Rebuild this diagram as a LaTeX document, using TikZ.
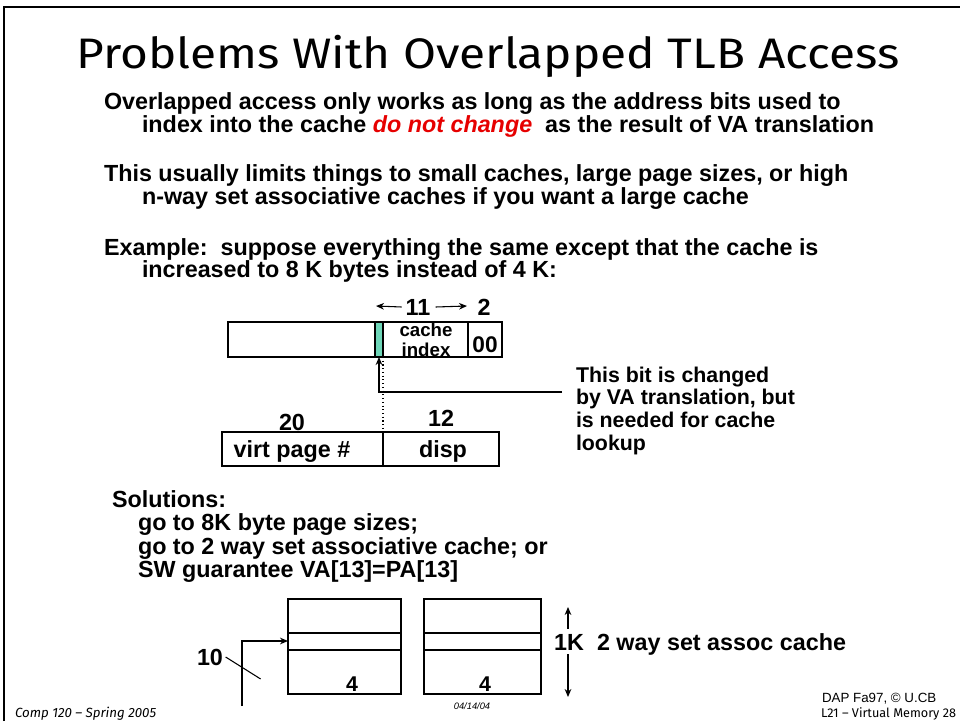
\documentclass[tikz,border=0pt]{standalone}
\usepackage{fontspec}
\setmainfont{Liberation Sans}
\newfontfamily\comicfont{Fira Sans}
\usetikzlibrary{arrows.meta,calc}
\definecolor{slidered}{RGB}{230,0,0}
\definecolor{stripgreen}{RGB}{110,214,184}
\begin{document}
\begin{tikzpicture}[x=0.75pt,y=-0.75pt,
  every node/.style={inner sep=0pt,outer sep=0pt},
  body/.style={font=\fontsize{17.5}{17.5}\selectfont\bfseries, anchor=base west},
  note/.style={font=\fontsize{16}{16}\selectfont\bfseries, anchor=base west},
  cell/.style={draw, line width=1pt, anchor=north west},
  lbl/.style={font=\fontsize{17.5}{17.5}\selectfont\bfseries},
  tip/.style={-{Stealth[length=6pt,width=5pt]}},
  ln/.style={line width=1pt},
]
\useasboundingbox (0,0) rectangle (960,721);
\draw[line width=1.5pt] (4,721) -- (4,7) -- (960,7);

\node[font=\comicfont\fontsize{32}{32}\selectfont, anchor=base] (title) at (488,68) {\scalebox{1.12}[1]{Problems With Overlapped TLB Access}};

\node[body] (l1) at (104,109) {Overlapped access only works as long as the address bits used to};
\node[body] (l2) at (142,132) {index into the cache \textcolor{slidered}{\itshape do not change}\ \ as the result of VA translation};
\node[body] (l3) at (104,181) {This usually limits things to small caches, large page sizes, or high};
\node[body] (l4) at (142,204) {n-way set associative caches if you want a large cache};
\node[body] (l5) at (104,255) {Example:\ \ suppose everything the same except that the cache is};
\node[body] (l6) at (142,277) {increased to 8 K bytes instead of 4 K:};

% address with cache index
\node[cell, minimum width=147*0.75pt, minimum height=35*0.75pt] (tbl) at (228,322) {};
\node[cell, fill=stripgreen, minimum width=8*0.75pt, minimum height=35*0.75pt] (strip) at (375,322) {};
\node[cell, minimum width=85*0.75pt, minimum height=35*0.75pt] (idx) at (383,322) {};
\node[cell, minimum width=34*0.75pt, minimum height=35*0.75pt] (zz) at (468,322) {};
\node[font=\fontsize{14}{14}\selectfont\bfseries] (cachet) at (426,330) {cache};
\node[font=\fontsize{14}{14}\selectfont\bfseries] (indext) at (426,350) {index};
\node[font=\fontsize{17}{17}\selectfont\bfseries] (zzt) at (485,345) {00};

\node[lbl] (eleven) at (418,307) {11};
\node[lbl] (two) at (484,307) {2};
\coordinate (lt) at (376,306);
\coordinate (rt) at (467,306);
\draw[tip, line width=0.8pt] ([xshift=-3pt]eleven.west) -- (lt);
\draw[tip, line width=0.8pt] ([xshift=4pt]eleven.east) -- (rt);

% virtual address
\node[cell, minimum width=161*0.75pt, minimum height=34*0.75pt] (vpn) at (222,432) {};
\node[cell, minimum width=116*0.75pt, minimum height=34*0.75pt] (disp) at (383,432) {};
\node[lbl] (twenty) at (292,422) {20};
\node[lbl] (twelve) at (441,418) {12};
\node[lbl, anchor=base] (vpnt) at (292,457) {virt page \#};
\node[lbl, anchor=base] (dispt) at (443,457) {disp};

\draw[dotted, line width=0.8pt] (strip.south east) -- (vpn.north east);

\coordinate (noteend) at (562,392);
\coordinate (bend) at (379,392);
\draw[ln, tip] (noteend) -- (bend) -- (strip.south);

\node[note] (n1) at (576,382) {This bit is changed};
\node[note] (n2) at (576,404) {by VA translation, but};
\node[note] (n3) at (576,427) {is needed for cache};
\node[note] (n4) at (576,450) {lookup};

% solutions
\node[body] (s0) at (112,507) {Solutions:};
\node[body] (s1) at (138,530) {go to 8K byte page sizes;};
\node[body] (s2) at (138,554) {go to 2 way set associative cache; or};
\node[body] (s3) at (138,577) {SW guarantee VA[13]=PA[13]};

% 2-way cache
\node[cell, minimum width=113*0.75pt, minimum height=95*0.75pt] (way1) at (288,599) {};
\node[cell, minimum width=117*0.75pt, minimum height=95*0.75pt] (way2) at (424,599) {};
\foreach \w in {way1,way2}{
  \draw[ln] ($(\w.north west)+(0,34)$) -- ($(\w.north east)+(0,34)$);
  \draw[ln] ($(\w.north west)+(0,51)$) -- ($(\w.north east)+(0,51)$);
}
\node[font=\fontsize{16}{16}\selectfont\bfseries] (four1) at (352,684) {4};
\node[font=\fontsize{16}{16}\selectfont\bfseries] (four2) at (485,684) {4};

\coordinate (addr) at (242,706);
\coordinate (abend) at (242,641);
\draw[ln, tip] (addr) -- (abend) -- (way1.west |- abend);
\node[lbl] (ten) at (210,657) {10};
\draw[line width=0.8pt] ([xshift=2pt]ten.east) -- ++(35,22);

\node[lbl] (onek) at (569,642) {1K};
\coordinate (ktop) at (568,607);
\coordinate (kbot) at (568,697);
\draw[line width=0.8pt, tip] ($(onek.north -| ktop)+(0,-5)$) -- (ktop);
\draw[line width=0.8pt, tip] ($(onek.south -| kbot)+(0,4)$) -- (kbot);
\node[body] (assoc) at (597,650) {2 way set assoc cache};

% footer
\node[font=\comicfont\itshape\fontsize{10}{10}\selectfont, anchor=base west] (f1) at (15,717) {Comp 120 – Spring 2005};
\node[font=\itshape\fontsize{7}{7}\selectfont, anchor=base] (f2) at (472,709) {04/14/04};
\node[font=\fontsize{10}{10}\selectfont, anchor=base west] (f3) at (822,702) {DAP Fa97, © U.CB};
\node[font=\comicfont\fontsize{9.5}{9.5}\selectfont, anchor=base east] (f4) at (956,717) {L21 – Virtual Memory 28};
\end{tikzpicture}
\end{document}
